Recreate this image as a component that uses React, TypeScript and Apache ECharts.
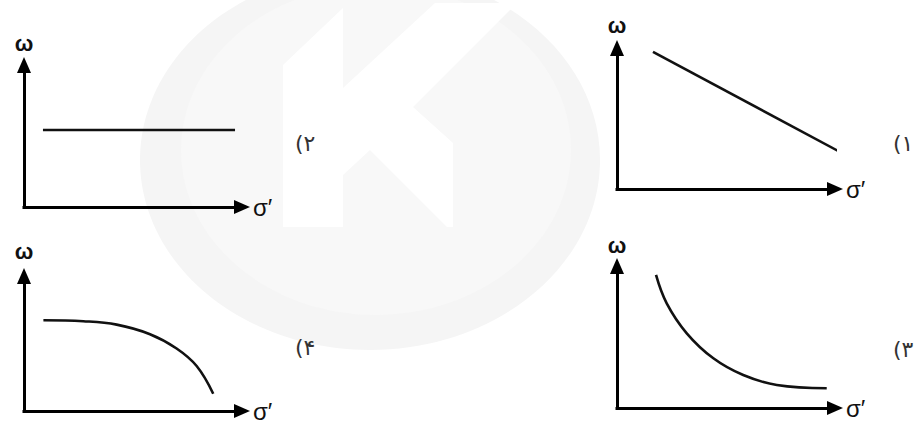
import React, { useEffect, useRef } from "react";
import * as echarts from "echarts";

// Panel order: [top-left (۲), top-right (۱), bottom-left (۴), bottom-right (۳)]
const panelLabels = ["(۲", "(۱", "(۴", "(۳"];
const yAxisName = "ω";
const xAxisName = "σ′";

// Curve values (x: σ′ 0..100, y: ω 0..100)
const panel2Data = [
  [8.7, 54.2],
  [96.8, 54.2],
];
const panel1Data = [
  [16.5, 97.2],
  [103.2, 25.5],
];
const panel4Data = [
  [8.9, 67.2],
  [27.2, 66.5],
  [42.5, 64.0],
  [57.8, 56.9],
  [70.0, 46.3],
  [79.2, 33.3],
  [86.8, 12.8],
];
const panel3Data = [
  [17.9, 93.7],
  [22.8, 73.7],
  [32.0, 52.6],
  [44.2, 35.0],
  [57.9, 23.2],
  [73.3, 16.2],
  [96.2, 13.9],
];

const grids = [
  { left: 24, top: 65, width: 218, height: 142 },
  { left: 617, top: 48, width: 218, height: 141 },
  { left: 24, top: 276, width: 218, height: 141 },
  { left: 617, top: 266, width: 218, height: 142 },
];
const yNameGaps = [22, 23, 25, 21];
const labelPos = [
  [295, 143],
  [893, 143],
  [295, 347],
  [893, 349],
];

export default function App() {
  const ref = useRef<HTMLDivElement>(null);
  useEffect(() => {
    if (!ref.current) return;
    const chart = echarts.init(ref.current, null, { renderer: "svg" });
    const datasets = [panel2Data, panel1Data, panel4Data, panel3Data];
    const axisLine = {
      show: true,
      symbol: ["none", "triangle"],
      symbolSize: [14, 16],
      lineStyle: { color: "#000", width: 3, cap: "square" },
    };
    const nameStyle = {
      fontFamily: "Liberation Sans, Arial, sans-serif",
      fontSize: 22,
      color: "#111",
      verticalAlign: "middle",
    };
    const option: any = {
      animation: false,
      backgroundColor: "#fff",
      grid: grids.map((g) => ({ ...g, containLabel: false })),
      xAxis: grids.map((_, i) => ({
        type: "value",
        gridIndex: i,
        min: 0,
        max: 100,
        axisLine,
        axisTick: { show: false },
        axisLabel: { show: false },
        splitLine: { show: false },
        name: xAxisName,
        nameLocation: "end",
        nameGap: 11,
        nameTextStyle: { ...nameStyle, align: "left", fontSize: 24 },
      })),
      yAxis: grids.map((_, i) => ({
        type: "value",
        gridIndex: i,
        min: 0,
        max: 100,
        axisLine,
        axisTick: { show: false },
        axisLabel: { show: false },
        splitLine: { show: false },
        name: yAxisName,
        nameLocation: "end",
        nameGap: yNameGaps[i],
        nameTextStyle: { ...nameStyle, align: "center", fontWeight: "bold" },
      })),
      series: datasets.map((d, i) => ({
        type: "line",
        xAxisIndex: i,
        yAxisIndex: i,
        data: d,
        showSymbol: false,
        smooth: d.length > 2 ? 0.4 : false,
        clip: false,
        lineStyle: { color: "#111", width: 2.6 },
      })),
      graphic: [
        {
          type: "ellipse",
          z: -100,
          silent: true,
          shape: { cx: 370, cy: 160, rx: 230, ry: 190 },
          style: { fill: "#f5f5f5" },
        },
        {
          type: "ellipse",
          z: -99,
          silent: true,
          shape: { cx: 376, cy: 150, rx: 195, ry: 165 },
          style: { fill: "#f8f8f8" },
        },
        {
          type: "polygon",
          z: -98,
          silent: true,
          shape: {
            points: [
              [283, 65],
              [343, 8],
              [343, 88],
              [435, 3],
              [517, 3],
              [413, 107],
              [453, 143],
              [453, 227],
              [447, 227],
              [370, 150],
              [343, 175],
              [343, 227],
              [283, 227],
            ],
          },
          style: { fill: "#ffffff" },
        },
        ...panelLabels.map((t, i) => ({
          type: "text",
          x: labelPos[i][0],
          y: labelPos[i][1],
          style: {
            text: t,
            fontFamily: "DejaVu Sans, sans-serif",
            fontSize: 22,
            fill: "#333",
            textVerticalAlign: "middle",
            textAlign: "left",
          },
        })),
      ],
    };
    chart.setOption(option);
    return () => chart.dispose();
  }, []);
  return (
    <div
      ref={ref}
      style={{ position: "absolute", left: 0, top: 0, width: 923, height: 423 }}
    />
  );
}
